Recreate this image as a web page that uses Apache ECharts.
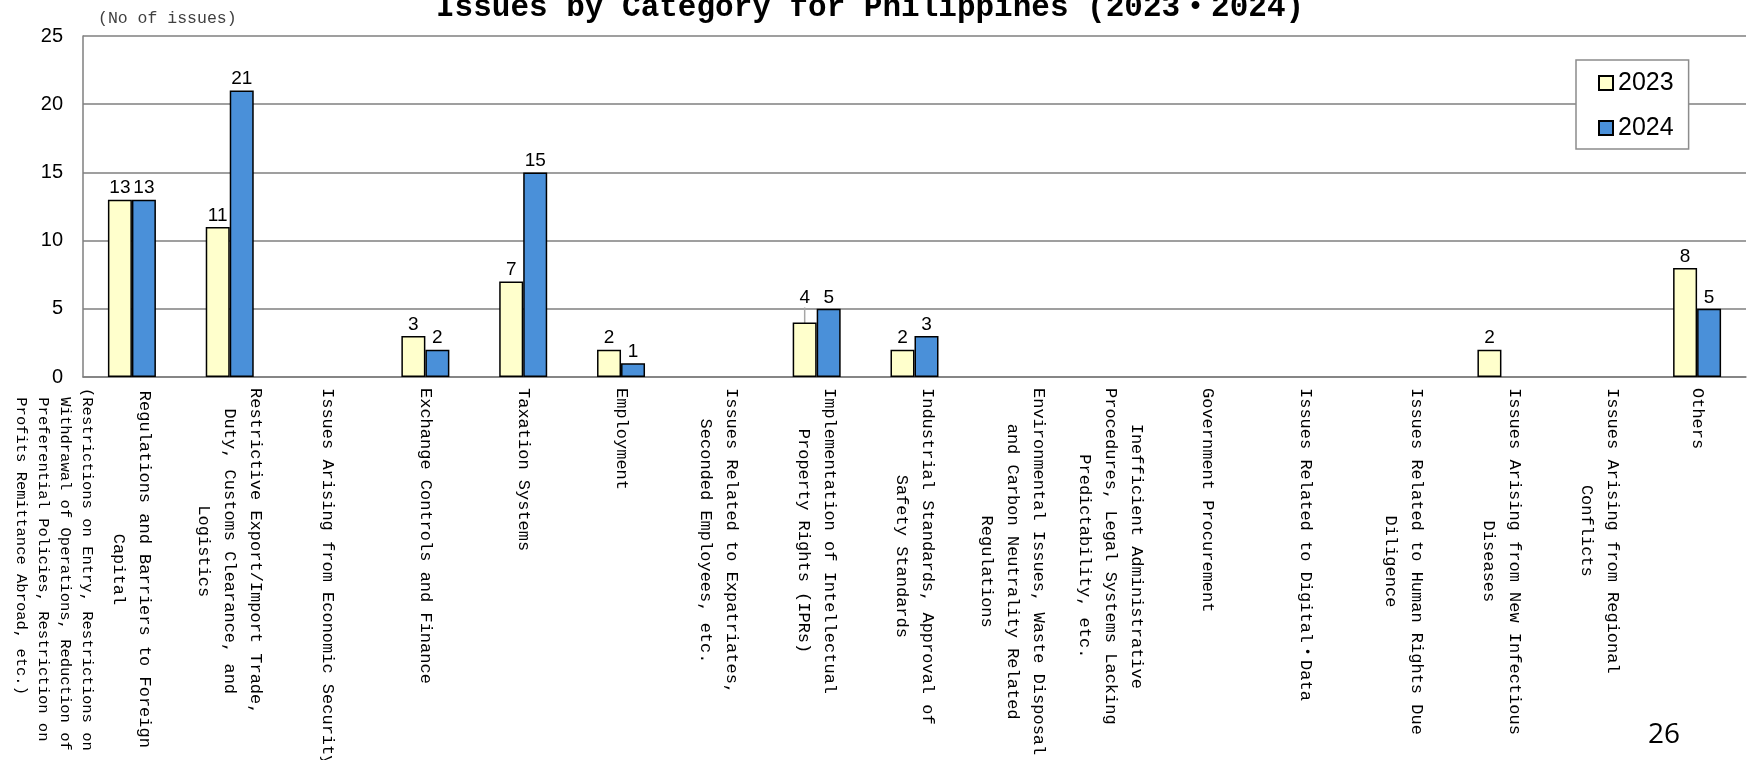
<!DOCTYPE html>
<html>
<head>
<meta charset="utf-8">
<script src="https://cdn.jsdelivr.net/npm/echarts@6/dist/echarts.min.js"></script>
<style>
  html, body { margin: 0; padding: 0; background: #fff; }
  #chart { width: 1752px; height: 760px; }
</style>
</head>
<body>
<div id="chart"></div>
<script>
// Issue categories (line breaks as laid out under the axis)
const categories = [
  'Regulations and Barriers to Foreign\nCapital',
  'Restrictive Export/Import Trade,\nDuty, Customs Clearance, and\nLogistics',
  'Issues Arising from Economic Security',
  'Exchange Controls and Finance',
  'Taxation Systems',
  'Employment',
  'Issues Related to Expatriates,\nSeconded Employees, etc.',
  'Implementation of Intellectual\nProperty Rights (IPRs)',
  'Industrial Standards, Approval of\nSafety Standards',
  'Environmental Issues, Waste Disposal\nand Carbon Neutrality Related\nRegulations',
  'Inefficient Administrative\nProcedures, Legal Systems Lacking\nPredictability, etc.',
  'Government Procurement',
  'Issues Related to Digital・Data',
  'Issues Related to Human Rights Due\nDiligence',
  'Issues Arising from New Infectious\nDiseases',
  'Issues Arising from Regional\nConflicts',
  'Others'
];

// Supplementary note printed under the first category
const categoryNotes = {
  0: '(Restrictions on Entry, Restrictions on\n Withdrawal of Operations, Reduction of\n Preferential Policies, Restriction on\n Profits Remittance Abroad, etc.)'
};

const seriesNames = ['2023', '2024'];
const values2023 = [13, 11, 0, 3, 7, 2, 0, 4, 2, 0, 0, 0, 0, 0, 2, 0, 8];
const values2024 = [13, 21, 0, 2, 15, 1, 0, 5, 3, 0, 0, 0, 0, 0, 0, 0, 5];

const yMin = 0, yMax = 25, yStep = 5;

const titleText = 'Issues by Category for Philippines (2023・2024)';
const unitText = '(No of issues)';
const pageNumber = '26';

// ---- styling ----
const MONO = "'Liberation Mono', 'DejaVu Sans Mono', 'Noto Sans CJK JP', monospace";
const SANS = "'Liberation Sans', 'Noto Sans CJK JP', sans-serif";
const GRID_GRAY = '#7f7f7f';
const COLORS = ['#ffffcc', '#4a90d9'];

// Per-label adjustments, keyed by data index
const labelAdjust = [
  { 1: { offset: [-12, 0] }, 7: { lift: -13 } },
  {}
];

function buildSeriesData(values, adjust) {
  return values.map((v, i) => {
    const item = { value: v === 0 ? '-' : v };
    const a = adjust[i];
    if (a && a.offset) item.label = { offset: a.offset };
    if (a && a.lift) {
      item.labelLine = { show: true, lineStyle: { color: '#a6a6a6', width: 1.5 } };
    }
    return item;
  });
}

function formatCategory(value, index) {
  const parts = value.split('\n').map(l => '{m|' + l + '}');
  const note = categoryNotes[index];
  if (note) {
    parts.push('{g| }');
    note.split('\n').forEach(l => parts.push('{n|' + l + '}'));
  }
  return parts.join('\n');
}

const axisData = categories.map((c, i) => {
  if (categoryNotes[i]) {
    // keep the main two lines centred on the tick, the note hangs to the left
    return { value: c, textStyle: { padding: [96, 0, 0, 0] } };
  }
  return c;
});

const chart = echarts.init(document.getElementById('chart'), null, { renderer: 'canvas' });

const option = {
  animation: false,
  backgroundColor: '#ffffff',
  title: [
    {
      text: titleText,
      left: 436,
      top: -7,
      padding: 0,
      textStyle: { fontFamily: MONO, fontSize: 31, fontWeight: 'bold', color: '#000' }
    },
    {
      text: unitText,
      left: 98,
      top: 10,
      padding: 0,
      textStyle: { fontFamily: MONO, fontSize: 16.5, fontWeight: 'normal', color: '#404040' }
    }
  ],
  legend: {
    orient: 'vertical',
    left: 1576,
    top: 60,
    padding: [9, 15, 7, 22],
    itemWidth: 14,
    itemHeight: 14,
    itemGap: 17,
    icon: 'rect',
    backgroundColor: '#ffffff',
    borderColor: '#8c8c8c',
    borderWidth: 1.5,
    textStyle: { fontFamily: SANS, fontSize: 25, lineHeight: 28, color: '#000' },
    data: seriesNames
  },
  grid: {
    left: 83,
    right: 6,
    top: 36,
    bottom: 383,
    containLabel: false,
    outerBoundsMode: 'none'
  },
  xAxis: {
    type: 'category',
    data: axisData,
    axisLine: { show: true, lineStyle: { color: GRID_GRAY, width: 1.5 } },
    axisTick: { show: false },
    axisLabel: {
      interval: 0,
      rotate: -90,
      margin: 11,
      hideOverlap: false,
      color: '#000',
      fontFamily: MONO,
      fontSize: 17,
      formatter: formatCategory,
      rich: {
        m: { fontFamily: MONO, fontSize: 17, lineHeight: 26, align: 'center', color: '#000' },
        g: { fontFamily: MONO, fontSize: 4, lineHeight: 8 },
        n: { fontFamily: MONO, fontSize: 15.5, lineHeight: 22, align: 'left', color: '#000' }
      }
    }
  },
  yAxis: {
    type: 'value',
    min: yMin,
    max: yMax,
    interval: yStep,
    axisLine: { show: true, lineStyle: { color: GRID_GRAY, width: 1.5 } },
    axisTick: { show: false },
    axisLabel: { margin: 20, color: '#000', fontFamily: SANS, fontSize: 20 },
    splitLine: { show: true, lineStyle: { color: GRID_GRAY, width: 1.5 } }
  },
  series: [values2023, values2024].map((vals, s) => ({
    name: seriesNames[s],
    type: 'bar',
    barWidth: 24,
    barGap: '0%',
    itemStyle: { color: COLORS[s], borderColor: '#000', borderWidth: 1.5 },
    label: {
      show: true,
      position: 'top',
      distance: 2,
      color: '#000',
      fontFamily: SANS,
      fontSize: 19
    },
    labelLayout: function (params) {
      const a = labelAdjust[s][params.dataIndex];
      if (a && a.lift) return { dy: a.lift };
      return {};
    },
    data: buildSeriesData(vals, labelAdjust[s])
  })),
  graphic: [
    {
      type: 'text',
      left: 1648,
      top: 721,
      style: { text: pageNumber, fontFamily: "'Open Sans', 'Liberation Sans', sans-serif", fontSize: 28, fill: '#000' }
    }
  ]
};

chart.setOption(option);
</script>
</body>
</html>
